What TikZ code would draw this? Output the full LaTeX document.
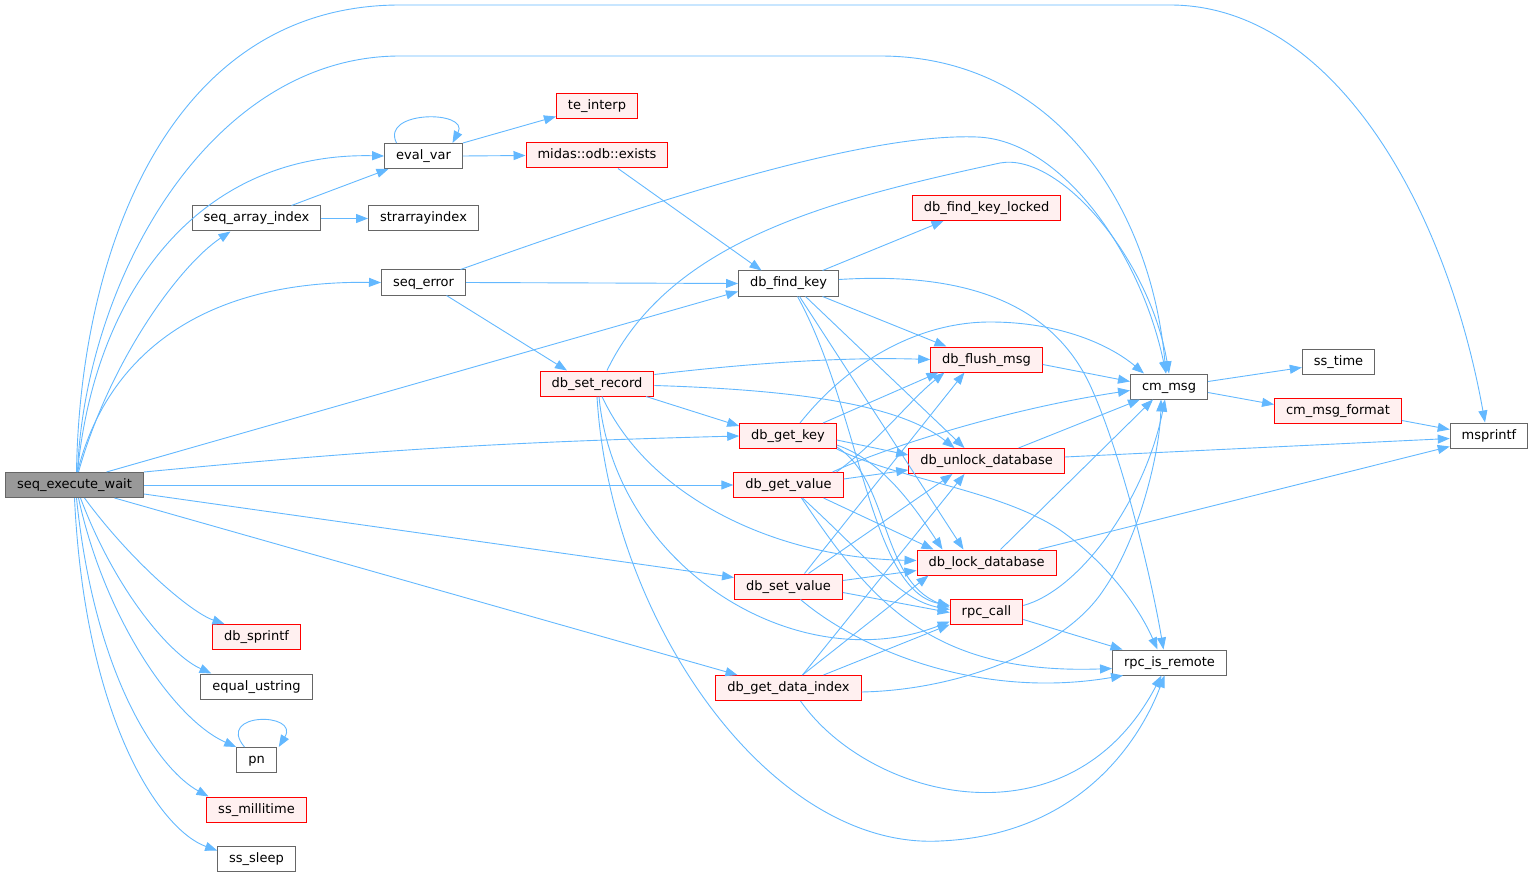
\documentclass[tikz,border=0pt]{standalone}
\usepackage{fontspec}
\setmainfont{DejaVu Sans}
\usepackage{tikz}
\usetikzlibrary{arrows.meta}

\definecolor{edgeblue}{HTML}{63B8FF}
\definecolor{boxgrey}{HTML}{666666}
\definecolor{rootgrey}{HTML}{999999}
\definecolor{boxred}{HTML}{FF0000}
\definecolor{boxpink}{HTML}{FFF0F0}

\begin{document}
\begin{tikzpicture}[
x=1pt, y=-1pt,
fnode/.style={rectangle, draw=boxgrey, fill=white, line width=1pt, minimum height=25pt, inner xsep=11.5pt, inner ysep=0pt, text height=10pt, text depth=3pt, font=\fontsize{13}{15}\selectfont},
rnode/.style={fnode, draw=boxred, fill=boxpink},
rootnode/.style={fnode, fill=rootgrey},
edge/.style={-{Triangle[length=12pt,width=9pt]}, draw=edgeblue, line width=0.9pt}
]
\useasboundingbox (0,0) rectangle (1533,877);

%Nodes
\node[rootnode] (execwait)   at (74.5,485)   {seq\_execute\_wait};
\node[fnode]    (evalvar)    at (423.5,156)  {eval\_var};
\node[fnode]    (arrayidx)   at (256.5,218.5) {seq\_array\_index};
\node[fnode]    (strarr)     at (423.5,218.5) {strarrayindex};
\node[fnode]    (seqerr)     at (423.5,282.5) {seq\_error};
\node[rnode]    (teinterp)   at (597,106.5)  {te\_interp};
\node[rnode]    (exists)     at (597,155.5)  {midas::odb::exists};
\node[rnode]    (findlocked) at (986.5,208)  {db\_find\_key\_locked};
\node[fnode]    (findkey)    at (788.5,283.5) {db\_find\_key};
\node[rnode]    (flushmsg)   at (986.5,359.5) {db\_flush\_msg};
\node[rnode]    (setrecord)  at (597,383.5)  {db\_set\_record};
\node[fnode]    (cmmsg)      at (1169,386.5) {cm\_msg};
\node[fnode]    (sstime)     at (1338.5,361.5) {ss\_time};
\node[rnode]    (msgformat)  at (1338,410.5) {cm\_msg\_format};
\node[fnode]    (msprintf)   at (1489,435.5) {msprintf};
\node[rnode]    (getkey)     at (788,436)    {db\_get\_key};
\node[rnode]    (unlock)     at (986.5,461)  {db\_unlock\_database};
\node[rnode]    (getvalue)   at (788.5,485)  {db\_get\_value};
\node[rnode]    (lock)       at (986.5,562.5) {db\_lock\_database};
\node[rnode]    (setvalue)   at (788.5,586.5) {db\_set\_value};
\node[rnode]    (rpccall)    at (986.5,611.5) {rpc\_call};
\node[rnode]    (dataidx)    at (788.5,688)  {db\_get\_data\_index};
\node[fnode]    (remote)     at (1169.5,662.5) {rpc\_is\_remote};
\node[rnode]    (sprintf)    at (256.5,637)  {db\_sprintf};
\node[fnode]    (equal)      at (256.5,686.5) {equal\_ustring};
\node[fnode]    (pn)         at (256.5,760)  {pn};
\node[rnode]    (millitime)  at (256.5,809.5) {ss\_millitime};
\node[fnode]    (sleep)      at (256.5,858.5) {ss\_sleep};

%Lines from seq_execute_wait
\draw[edge] ([xshift=2]execwait.north) .. controls (80,250) and (170,5) .. (400,5) -- (1170,5) .. controls (1330,5) and (1445,200) .. ([xshift=-4]msprintf.north);
\draw[edge] ([xshift=3]execwait.north) .. controls (85,280) and (210,56) .. (400,56) -- (880,56) .. controls (1050,56) and (1150,200) .. ([xshift=-3]cmmsg.north);
\draw[edge] ([xshift=3]execwait.north) .. controls (95,290) and (200,152) .. (evalvar.west);
\draw[edge] ([xshift=4]execwait.north) .. controls (110,360) and (180,265) .. ([xshift=-26]arrayidx.south);
\draw[edge] ([xshift=3]execwait.north) .. controls (100,380) and (175,280) .. (seqerr.west);
\draw[edge] ([xshift=32]execwait.north) -- ([yshift=-8]findkey.west);
\draw[edge] (execwait.north east) to[bend left=2] (getkey.west);
\draw[edge] (execwait.east) -- (getvalue.west);
\draw[edge] ([yshift=-9]execwait.east) -- ([yshift=9]setvalue.west);
\draw[edge] ([xshift=40]execwait.south) -- ([xshift=-51]dataidx.north);
\draw[edge] ([xshift=10]execwait.south) .. controls (130,560) and (190,612) .. ([xshift=-32]sprintf.north);
\draw[edge] ([xshift=6]execwait.south) .. controls (115,590) and (170,655) .. ([xshift=-45]equal.north);
\draw[edge] ([xshift=4]execwait.south) .. controls (105,620) and (175,720) .. (pn.north west);
\draw[edge] ([xshift=2]execwait.south) .. controls (95,680) and (160,770) .. ([xshift=-48]millitime.north);
\draw[edge] (execwait.south) .. controls (85,720) and (160,830) .. ([yshift=8]sleep.west);

%Self calls
\draw[edge] ([xshift=-27]evalvar.north) .. controls (380,110) and (470,110) .. ([xshift=29]evalvar.north);
\draw[edge] ([xshift=-12]pn.north) .. controls (215,712) and (300,712) .. ([xshift=2]pn.north east);

%Lines of the second column
\draw[edge] (evalvar.north east) -- ([yshift=3]teinterp.south west);
\draw[edge] (evalvar.east) -- (exists.west);
\draw[edge] ([xshift=35]arrayidx.north) -- ([xshift=-35]evalvar.south);
\draw[edge] (arrayidx.east) -- (strarr.west);
\draw[edge] ([xshift=37]seqerr.north) .. controls (600,220) and (850,132) .. (977,137) .. controls (1060,140) and (1140,250) .. ([xshift=-3]cmmsg.north);
\draw[edge] (seqerr.east) -- (findkey.west);
\draw[edge] ([xshift=23]seqerr.south) -- ([xshift=-30]setrecord.north);
\draw[edge] ([xshift=21]exists.south) -- ([xshift=-27]findkey.north);

%Lines from db_set_record
\draw[edge] ([xshift=10]setrecord.north) .. controls (670,240) and (830,200) .. (1000,163) .. controls (1060,152) and (1150,260) .. (cmmsg.north);
\draw[edge] ([yshift=9]setrecord.east) .. controls (760,362) and (850,357) .. (flushmsg.west);
\draw[edge] ([yshift=-2]setrecord.east) .. controls (800,390) and (900,405) .. ([xshift=-32]unlock.north);
\draw[edge] ([xshift=49]setrecord.south) -- ([yshift=10]getkey.west);
\draw[edge] ([xshift=5]setrecord.south) .. controls (650,500) and (780,558) .. ([yshift=2]lock.west);
\draw[edge] ([xshift=2]setrecord.south) .. controls (615,570) and (800,680) .. ([yshift=3]rpccall.south west);
\draw[edge] (setrecord.south) .. controls (610,620) and (770,850) .. (940,841) .. controls (1080,835) and (1140,740) .. ([xshift=-5]remote.south);

%Lines from db_find_key
\draw[edge] ([xshift=34]findkey.north) -- ([xshift=-43]findlocked.south);
\draw[edge] ([yshift=4]findkey.east) .. controls (960,272) and (1050,300) .. (1090,385) .. controls (1120,450) and (1150,570) .. ([xshift=-6]remote.north);
\draw[edge] ([xshift=34]findkey.south) -- ([xshift=-40]flushmsg.north);
\draw[edge] ([xshift=17]findkey.south) -- ([xshift=-22]unlock.north);
\draw[edge] ([xshift=11]findkey.south) -- ([xshift=-23]lock.north);
\draw[edge] ([xshift=9]findkey.south) .. controls (860,410) and (870,590) .. ([yshift=6]rpccall.west);

%Lines from db_get_key
\draw[edge] ([xshift=12]getkey.north) .. controls (850,360) and (920,322) .. (990,322) .. controls (1060,322) and (1110,345) .. ([xshift=-25]cmmsg.north);
\draw[edge] ([xshift=35]getkey.north) -- ([xshift=-48]flushmsg.south);
\draw[edge] ([yshift=-4]getkey.east) -- ([yshift=6]unlock.west);
\draw[edge] ([yshift=-9]getkey.east) .. controls (880,460) and (910,500) .. ([xshift=-44]lock.north);
\draw[edge] ([yshift=-11]getkey.east) .. controls (890,480) and (880,580) .. ([yshift=4]rpccall.west);
\draw[edge] (getkey.south east) .. controls (900,480) and (1000,490) .. (1060,530) .. controls (1110,565) and (1140,610) .. ([xshift=-12]remote.north);

%Lines from db_get_value
\draw[edge] ([xshift=44]getvalue.north) .. controls (880,450) and (1000,410) .. ([yshift=-4]cmmsg.west);
\draw[edge] ([xshift=48]getvalue.north) .. controls (880,440) and (910,400) .. ([xshift=-42]flushmsg.south);
\draw[edge] ([yshift=6]getvalue.east) -- ([yshift=-9]unlock.west);
\draw[edge] ([xshift=35]getvalue.south) -- ([xshift=-53]lock.north);
\draw[edge] ([xshift=14]getvalue.south) .. controls (870,560) and (900,600) .. ([yshift=2]rpccall.west);
\draw[edge] ([xshift=13]getvalue.south) .. controls (870,600) and (930,675) .. ([yshift=-6]remote.west);

%Lines from db_set_value
\draw[edge] ([xshift=16]setvalue.north) -- ([xshift=-22]flushmsg.south);
\draw[edge] ([xshift=20]setvalue.north) -- ([xshift=-34]unlock.south);
\draw[edge] ([yshift=6]setvalue.east) -- ([yshift=-8]lock.west);
\draw[edge] ([yshift=-6]setvalue.east) -- ([yshift=-1]rpccall.west);
\draw[edge] ([xshift=12]setvalue.south) .. controls (860,650) and (980,700) .. ([xshift=11]remote.south west);

%Lines from db_get_data_index
\draw[edge] ([xshift=14]dataidx.north) -- ([xshift=-22]unlock.south);
\draw[edge] ([xshift=14]dataidx.north) -- ([xshift=-58]lock.south);
\draw[edge] ([xshift=35]dataidx.north) -- (rpccall.south west);
\draw[edge] ([yshift=-4]dataidx.east) .. controls (960,690) and (1060,650) .. (1100,595) .. controls (1140,540) and (1160,450) .. ([xshift=-8]cmmsg.south);
\draw[edge] ([xshift=12]dataidx.south) .. controls (870,800) and (1070,850) .. ([xshift=-8]remote.south);

%Lines of the right part
\draw[edge] ([yshift=-5]flushmsg.east) -- ([yshift=5]cmmsg.west);
\draw[edge] ([xshift=32]unlock.north) -- ([xshift=-29]cmmsg.south);
\draw[edge] ([yshift=4]unlock.east) -- ([yshift=-3]msprintf.west);
\draw[edge] ([xshift=14]lock.north) -- ([xshift=-16]cmmsg.south);
\draw[edge] ([xshift=52]lock.north) -- ([yshift=-11]msprintf.west);
\draw[edge] ([yshift=6]rpccall.east) .. controls (1080,590) and (1145,500) .. ([xshift=-4]cmmsg.south);
\draw[edge] ([yshift=-8]rpccall.east) -- ([xshift=-47]remote.north);
\draw[edge] ([yshift=5]cmmsg.east) -- ([yshift=-6]sstime.west);
\draw[edge] ([yshift=-6]cmmsg.east) -- ([yshift=6]msgformat.west);
\draw[edge] ([yshift=-10]msgformat.east) -- ([yshift=6]msprintf.west);

\end{tikzpicture}
\end{document}
